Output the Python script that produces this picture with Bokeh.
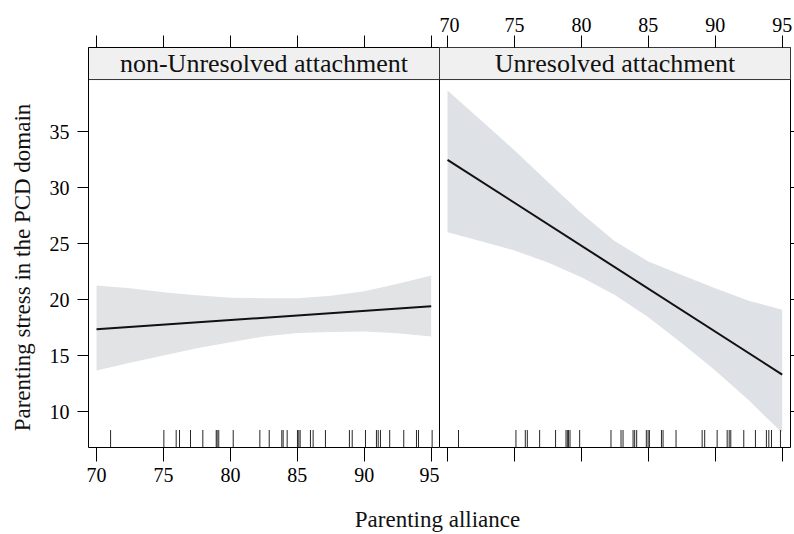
from bokeh.plotting import figure
from bokeh.layouts import row, column
from bokeh.models import FixedTicker, LinearAxis, Range1d, Label
from bokeh.core.properties import value
from bokeh.embed import file_html
from bokeh.resources import INLINE

# ---------------- data ----------------
panels = ["non-Unresolved attachment", "Unresolved attachment"]
x_ticks = [70, 75, 80, 85, 90, 95]
y_ticks = [10, 15, 20, 25, 30, 35]

band_x = [70, 72.5, 75, 77.5, 80, 82.5, 85, 87.5, 90, 92.5, 95]
fit_x = [70, 95]

nonres_fit = [17.35, 19.40]
nonres_lower = [13.66, 14.35, 15.0, 15.65, 16.19, 16.70, 17.02, 17.11, 17.14, 16.99, 16.70]
nonres_upper = [21.25, 21.0, 20.65, 20.38, 20.15, 20.12, 20.12, 20.33, 20.75, 21.4, 22.14]

unres_fit = [32.47, 13.30]
unres_lower = [26.01, 25.2, 24.38, 23.3, 22.0, 20.4, 18.42, 16.1, 13.66, 11.0, 8.1]
unres_upper = [38.66, 36.0, 33.33, 30.5, 27.7, 25.2, 23.4, 22.2, 21.0, 19.9, 19.08]

nonres_rug = [71.05, 75.03, 75.95, 76.20, 77.02, 77.94, 78.94, 79.01, 79.13, 80.21,
              82.20, 82.90, 83.84, 83.94, 84.24, 85.01, 85.11, 85.21, 85.98, 86.18,
              87.10, 88.89, 89.10, 90.09, 90.91, 91.04, 91.21, 91.90, 92.95, 93.90,
              94.05, 95.07]
unres_rug = [70.82, 75.11, 75.81, 75.96, 76.88, 78.07, 78.85, 78.95, 79.04, 79.15,
             79.87, 82.21, 82.96, 83.11, 83.86, 83.98, 84.13, 84.85, 84.98, 85.08,
             85.98, 86.10, 87.07, 89.02, 89.21, 90.14, 90.89, 91.04, 91.16, 92.13,
             93.00, 93.82, 94.00, 94.20, 94.87]

x_title = "Parenting alliance"
y_title = "Parenting stress in the PCD domain"

# ---------------- style ----------------
FONT = "Liberation Serif"
X0, X1 = 69.40, 95.62
Y0, Y1 = 6.79, 42.5
PANEL_TOP = 39.64
RUG_TOP = 8.35
band_colors = ["#e2e3e5", "#dee2e6"]
FIG_H = 492
YT_W = 40


def style_axis(ax, labels=True, tick_out=11, standoff=5, line=False):
    ax.axis_line_color = "black" if line else None
    ax.major_tick_line_color = "black"
    ax.major_tick_in = 0
    ax.major_tick_out = tick_out
    ax.minor_tick_line_color = None
    ax.major_label_text_font = FONT
    ax.major_label_text_color = "black"
    ax.major_label_text_font_size = "20px"
    ax.major_label_standoff = standoff
    if not labels:
        ax.major_label_overrides = {t: "" for t in ax.ticker.ticks}
        ax.major_label_standoff = 0


def make_panel(idx, lower, upper, fit, rug, width, border_left, border_right):
    p = figure(width=width, height=FIG_H, output_backend="svg", toolbar_location=None,
               x_range=Range1d(X0, X1), y_range=Range1d(Y0, Y1),
               x_axis_location=None, y_axis_location=None,
               min_border_left=border_left, min_border_right=border_right,
               min_border_top=47, min_border_bottom=45)
    p.grid.visible = False
    p.outline_line_color = None if idx == 0 else "black"
    p.outline_line_width = 1
    p.background_fill_color = "white"
    p.border_fill_color = "white"

    # confidence band
    p.varea(x=band_x, y1=lower, y2=upper, fill_color=band_colors[idx], fill_alpha=1.0)
    # fitted line
    p.line(x=fit_x, y=fit, line_color="#111111", line_width=2)
    # rug
    p.segment(x0=rug, y0=[Y0] * len(rug), x1=rug, y1=[RUG_TOP] * len(rug),
              line_color="#1a1a1a", line_alpha=0.95, line_width=1)
    # strip
    p.quad(left=[X0], right=[X1], bottom=[PANEL_TOP], top=[Y1],
           fill_color="#f0f0f0", line_color="#333333", line_width=1)
    p.text(x=[(X0 + X1) / 2], y=[(PANEL_TOP + Y1) / 2], text=[panels[idx]],
           text_font=value(FONT), text_font_size="26px", text_color="#111111",
           text_align="center", text_baseline="middle")

    top = LinearAxis(ticker=FixedTicker(ticks=x_ticks))
    bottom = LinearAxis(ticker=FixedTicker(ticks=x_ticks))
    if idx == 0:
        style_axis(top, labels=False, tick_out=12, line=True)
        style_axis(bottom, labels=True, tick_out=14, standoff=6, line=True)
        left = LinearAxis(ticker=FixedTicker(ticks=y_ticks))
        style_axis(left, labels=True, tick_out=11, standoff=8, line=True)
        p.add_layout(left, "left")
    else:
        style_axis(top, labels=True, tick_out=12, standoff=4)
        style_axis(bottom, labels=False, tick_out=14)
        right = LinearAxis(ticker=FixedTicker(ticks=y_ticks))
        style_axis(right, labels=False, tick_out=4)
        p.add_layout(right, "right")
    p.add_layout(top, "above")
    p.add_layout(bottom, "below")
    return p


p_left = make_panel(0, nonres_lower, nonres_upper, nonres_fit, nonres_rug,
                    439 - YT_W, 88 - YT_W, 0)
p_right = make_panel(1, unres_lower, unres_upper, unres_fit, unres_rug, 355, 0, 0)

# y-axis title in its own narrow figure
p_ytitle = figure(width=YT_W, height=FIG_H, output_backend="svg", toolbar_location=None,
                  x_axis_location=None, y_axis_location=None,
                  x_range=Range1d(0, 1), y_range=Range1d(0, 1),
                  min_border=0, outline_line_color=None)
p_ytitle.grid.visible = False
p_ytitle.add_layout(Label(x=22, y=180, x_units="screen", y_units="screen",
                          text=y_title, angle=1.5707963, text_font=FONT,
                          text_font_size="23px", text_align="center",
                          text_baseline="middle", text_color="#111111"))

# x-axis title
p_title = figure(width=794, height=42, output_backend="svg", toolbar_location=None,
                 x_axis_location=None, y_axis_location=None,
                 x_range=Range1d(0, 1), y_range=Range1d(0, 1),
                 min_border=0, outline_line_color=None)
p_title.grid.visible = False
p_title.add_layout(Label(x=437, y=15, x_units="screen", y_units="screen",
                         text=x_title, text_font=FONT, text_font_size="23px",
                         text_align="center", text_baseline="middle",
                         text_color="#111111"))

layout = column(row(p_ytitle, p_left, p_right, spacing=0), p_title, spacing=0)

open("out.html", "w").write(file_html(layout, INLINE))
